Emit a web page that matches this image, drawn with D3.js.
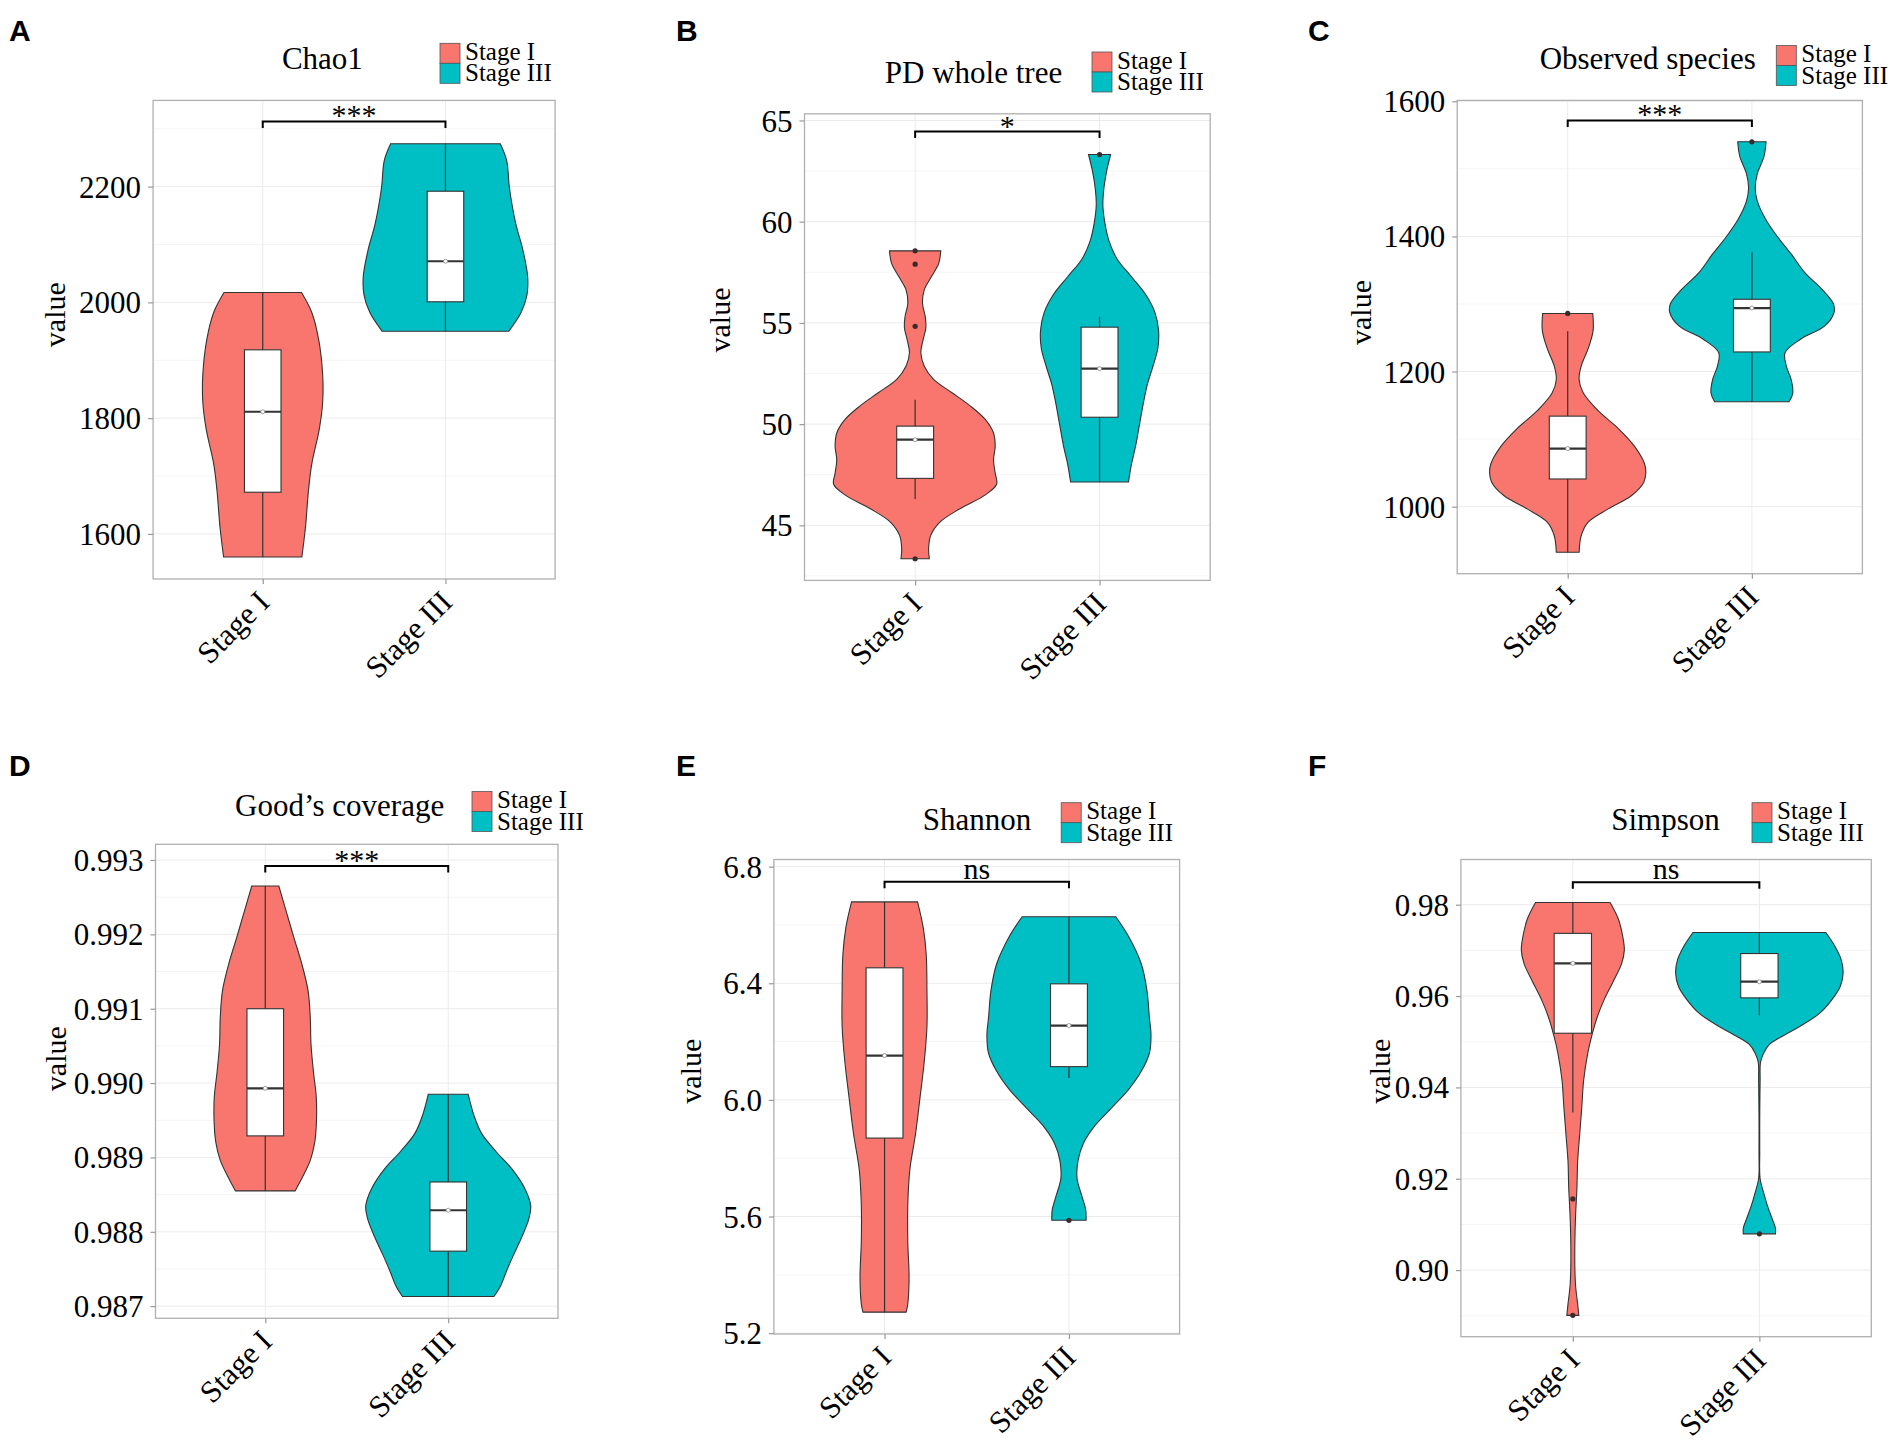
<!DOCTYPE html>
<meta charset="utf-8">
<style>
body{ margin:0; background:#fff; }
svg{ display:block; }
text{ font-family:"Liberation Serif","Times New Roman",serif; fill:#000; }
.letter{ font-family:"Liberation Sans",Arial,sans-serif; font-weight:bold; font-size:30px; }
.title{ font-size:31px; text-anchor:middle; }
.legend text{ font-size:25px; }
.ylab{ font-size:30px; text-anchor:middle; }
.sig{ font-size:30px; text-anchor:middle; }
.axis text{ font-size:31px; }
.axis line{ stroke:#999; stroke-width:1.2px; }
.axis path{ display:none; }
.grid-major{ stroke:#ebebeb; stroke-width:1px; }
.grid-minor{ stroke:#f5f5f5; stroke-width:1px; }
.violin{ stroke:#333; stroke-width:1.1px; }
.whisker{ stroke:#333; stroke-width:1.2px; }
.box{ fill:#fff; stroke:#333; stroke-width:1.1px; }
.median{ stroke:#333; stroke-width:2.2px; }
.border{ fill:none; stroke:#b0b0b0; stroke-width:1.3px; }
.bracket{ fill:none; stroke:#000; stroke-width:2px; }
</style>
<body>
<script src="https://d3js.org/d3.v7.min.js"></script>
<script>
// ---- data ----
var categories = ["Stage I", "Stage III"];
var fillColors = ["#F8766D", "#00BFC4"];
var panelLetters = ["A", "B", "C", "D", "E", "F"];
var panelTitles = ["Chao1", "PD whole tree", "Observed species", "Good\u2019s coverage", "Shannon", "Simpson"];
var sigLabels = ["***", "*", "***", "***", "ns", "ns"];
var sigValues = [2312.6, 64.45, 1571.6, 0.99292, 6.748, 0.9849];

var chao1Ticks = [1600, 1800, 2000, 2200];
var pdTicks = [45, 50, 55, 60, 65];
var obsTicks = [1000, 1200, 1400, 1600];
var goodsTicks = [0.987, 0.988, 0.989, 0.990, 0.991, 0.992, 0.993];
var shannonTicks = [5.2, 5.6, 6.0, 6.4, 6.8];
var simpsonTicks = [0.90, 0.92, 0.94, 0.96, 0.98];

// y extent of each panel [bottom, top]
var chao1Range = [1522.1, 2348.9];
var pdRange = [42.28, 65.33];
var obsRange = [900.8, 1601.3];
var goodsRange = [0.986837, 0.993211];
var shannonRange = [5.197, 6.8245];
var simpsonRange = [0.88542, 0.9899];

// violin profiles: [value, half width in category units]
var chao1_I = [[2017,0.212],[1983,0.268],[1936,0.306],[1875,0.328],[1828,0.328],[1782,0.310],[1720,0.268],[1674,0.25],[1612,0.234],[1560,0.214]];
var chao1_III = [[2274,0.30],[2245,0.335],[2198,0.35],[2137,0.384],[2090,0.424],[2044,0.45],[2013,0.446],[1982,0.413],[1950,0.346]];
var pd_I = [[58.56,0.139],[57.94,0.128],[57.28,0.088],[56.62,0.049],[55.96,0.04],[55.30,0.055],[54.75,0.058],[54.20,0.044],[53.53,0.031],[52.87,0.049],[52.21,0.1],[51.55,0.2],[50.89,0.3],[50.23,0.38],[49.56,0.425],[48.90,0.434],[48.24,0.425],[47.58,0.434],[47.03,0.442],[46.48,0.376],[45.82,0.243],[45.15,0.133],[44.49,0.084],[43.83,0.073],[43.35,0.077]];
var pd_III = [[63.32,0.06],[62.57,0.04],[61.69,0.024],[60.81,0.018],[59.93,0.029],[59.05,0.051],[58.16,0.095],[57.28,0.173],[56.40,0.25],[55.52,0.3],[54.64,0.32],[53.75,0.316],[52.87,0.29],[51.99,0.26],[51.11,0.239],[50.0,0.217],[48.90,0.195],[48.02,0.173],[47.14,0.157]];
var obs_I = [[1286,0.136],[1261,0.138],[1234.6,0.112],[1208,0.073],[1188.3,0.062],[1168.5,0.084],[1142,0.165],[1115.6,0.275],[1089.2,0.363],[1062.8,0.418],[1049.6,0.424],[1036.3,0.413],[1016.5,0.347],[996.7,0.22],[976.9,0.11],[957,0.073],[932.6,0.062]];
var obs_III = [[1540,0.077],[1518.7,0.066],[1492.3,0.029],[1472.5,0.018],[1452.6,0.029],[1426.2,0.073],[1399.8,0.138],[1373.3,0.215],[1346.9,0.286],[1320.5,0.385],[1300.7,0.442],[1287.4,0.446],[1267.6,0.396],[1247.8,0.264],[1227.8,0.18],[1208.1,0.187],[1188.3,0.213],[1168.5,0.222],[1155.3,0.202]];
var goods_I = [[0.99265,0.074],[0.99233,0.112],[0.99196,0.156],[0.99160,0.2],[0.99124,0.234],[0.99088,0.246],[0.99052,0.25],[0.99016,0.263],[0.98980,0.279],[0.98944,0.279],[0.98920,0.27],[0.98896,0.246],[0.98872,0.2],[0.98855,0.163]];
var goods_III = [[0.98985,0.109],[0.98956,0.141],[0.98932,0.183],[0.98908,0.261],[0.98884,0.35],[0.98859,0.417],[0.98835,0.451],[0.98817,0.44],[0.98793,0.402],[0.98769,0.357],[0.98745,0.315],[0.98727,0.286],[0.98713,0.25]];
var shannon_I = [[6.679,0.179],[6.590,0.21],[6.498,0.226],[6.375,0.23],[6.252,0.23],[6.129,0.215],[6.006,0.192],[5.883,0.168],[5.760,0.137],[5.638,0.126],[5.515,0.126],[5.392,0.133],[5.300,0.126],[5.272,0.117]];
var shannon_III = [[6.628,0.254],[6.559,0.325],[6.467,0.392],[6.375,0.423],[6.283,0.436],[6.221,0.445],[6.160,0.436],[6.098,0.392],[6.037,0.325],[5.975,0.235],[5.914,0.144],[5.853,0.08],[5.791,0.049],[5.730,0.044],[5.668,0.071],[5.622,0.091],[5.587,0.093]];
var simpson_I = [[0.9805,0.2],[0.97686,0.244],[0.97294,0.268],[0.970,0.276],[0.96706,0.261],[0.96314,0.216],[0.95922,0.168],[0.9553,0.13],[0.95137,0.102],[0.94745,0.08],[0.94157,0.058],[0.93569,0.048],[0.9298,0.037],[0.92392,0.026],[0.91804,0.022],[0.91216,0.015],[0.90627,0.011],[0.90039,0.011],[0.89647,0.015],[0.89255,0.026],[0.8901,0.032]];
var simpson_III = [[0.97392,0.356],[0.97098,0.404],[0.96804,0.438],[0.9651,0.449],[0.96216,0.434],[0.95922,0.389],[0.95627,0.324],[0.95333,0.216],[0.95137,0.13],[0.94941,0.054],[0.94745,0.022],[0.94549,0.006],[0.94157,0.004],[0.93373,0.002],[0.92588,0.002],[0.92,0.004],[0.91706,0.022],[0.91412,0.043],[0.91118,0.069],[0.90922,0.086],[0.90794,0.086]];

// box stats: [lower whisker, Q1, median, Q3, upper whisker]
var chao1Stats = [[1560,1672,1811,1918,2017],[1950,2001,2071,2192,2274]];
var pdStats = [[46.3,47.32,49.23,49.9,51.2],[47.14,50.34,52.74,54.79,55.3]];
var obsStats = [[932.6,1041,1086,1134,1259.7],[1155.3,1229,1294,1307,1376.6]];
var goodsStats = [[0.98855,0.98929,0.98993,0.9910,0.99265],[0.98713,0.98774,0.98829,0.98867,0.98985]];
var shannonStats = [[5.272,5.869,6.152,6.453,6.679],[6.075,6.114,6.255,6.398,6.628]];
var simpsonStats = [[0.93451,0.95186,0.96716,0.97373,0.9805],[0.95578,0.95961,0.96314,0.96931,0.97392]];

var chao1Outliers = [[], []];
var pdOutliers = [[58.56,57.9,54.83,43.35],[63.32]];
var obsOutliers = [[1286],[1540]];
var goodsOutliers = [[], []];
var shannonOutliers = [[], [5.587]];
var simpsonOutliers = [[0.91559,0.8901],[0.90794]];

var panels = [
  {ticks:chao1Ticks, fmt:"d", range:chao1Range, violins:[chao1_I, chao1_III], stats:chao1Stats, outliers:chao1Outliers},
  {ticks:pdTicks, fmt:"d", range:pdRange, violins:[pd_I, pd_III], stats:pdStats, outliers:pdOutliers},
  {ticks:obsTicks, fmt:"d", range:obsRange, violins:[obs_I, obs_III], stats:obsStats, outliers:obsOutliers},
  {ticks:goodsTicks, fmt:".3f", range:goodsRange, violins:[goods_I, goods_III], stats:goodsStats, outliers:goodsOutliers},
  {ticks:shannonTicks, fmt:".1f", range:shannonRange, violins:[shannon_I, shannon_III], stats:shannonStats, outliers:shannonOutliers},
  {ticks:simpsonTicks, fmt:".2f", range:simpsonRange, violins:[simpson_I, simpson_III], stats:simpsonStats, outliers:simpsonOutliers}
];

// ---- layout of the six panels (pixels) ----
var frames = [
  {l:153.1, r:555.1, t:100.4, b:579.0, tx:322.4, ty:69.2, lx:440.0, ly:43.3, px:9, py:41, vx:54.7, vy:314.7},
  {l:804.5, r:1210.2, t:113.8, b:580.4, tx:973.5, ty:82.6, lx:1092.0, ly:52.0, px:676, py:41, vx:719.6, vy:320.0},
  {l:1457.2, r:1862.4, t:100.4, b:573.7, tx:1647.7, ty:69.2, lx:1776.3, ly:45.5, px:1308, py:41, vx:1361.0, vy:312.5},
  {l:155.5, r:558.0, t:844.3, b:1318.3, tx:339.6, ty:816.1, lx:472.0, ly:791.5, px:9, py:776, vx:56.0, vy:1058.7},
  {l:773.9, r:1179.6, t:859.5, b:1334.0, tx:977.1, ty:829.5, lx:1061.2, ly:802.7, px:676, py:776, vx:691.0, vy:1071.2},
  {l:1460.9, r:1871.3, t:859.5, b:1336.7, tx:1665.5, ty:829.5, lx:1752.0, ly:802.7, px:1308, py:776, vx:1380.0, vy:1071.2}
];

var svg = d3.select("body").append("svg").attr("width", 1904).attr("height", 1442);

panels.forEach(function(p, i){
  var f = frames[i];
  var x = d3.scaleLinear().domain([0.4, 2.6]).range([f.l, f.r]);
  var y = d3.scaleLinear().domain(p.range).range([f.b, f.t]);
  var g = svg.append("g");

  // grid
  var step = p.ticks[1] - p.ticks[0];
  var minors = d3.range(p.ticks.length + 1)
    .map(function(k){ return p.ticks[0] + (k - 0.5) * step; })
    .filter(function(v){ return v > p.range[0] && v < p.range[1]; });
  g.selectAll(".grid-minor").data(minors).enter().append("line").attr("class", "grid-minor")
    .attr("x1", f.l).attr("x2", f.r).attr("y1", function(d){ return y(d); }).attr("y2", function(d){ return y(d); });
  g.selectAll(".grid-major").data(p.ticks).enter().append("line").attr("class", "grid-major")
    .attr("x1", f.l).attr("x2", f.r).attr("y1", function(d){ return y(d); }).attr("y2", function(d){ return y(d); });
  g.selectAll(".grid-x").data([1, 2]).enter().append("line").attr("class", "grid-major")
    .attr("x1", function(d){ return x(d); }).attr("x2", function(d){ return x(d); }).attr("y1", f.t).attr("y2", f.b);

  // violins + boxes
  p.violins.forEach(function(prof, c){
    var cx = c + 1;
    var area = d3.area().curve(d3.curveCatmullRom.alpha(0.5))
      .y(function(d){ return y(d[0]); })
      .x0(function(d){ return x(cx - d[1]); })
      .x1(function(d){ return x(cx + d[1]); });
    g.append("path").attr("class", "violin").attr("fill", fillColors[c]).attr("d", area(prof));

    var s = p.stats[c];
    g.append("line").attr("class", "whisker").attr("x1", x(cx)).attr("x2", x(cx)).attr("y1", y(s[0])).attr("y2", y(s[4]));
    g.append("rect").attr("class", "box")
      .attr("x", x(cx - 0.1)).attr("width", x(cx + 0.1) - x(cx - 0.1))
      .attr("y", y(s[3])).attr("height", y(s[1]) - y(s[3]));
    g.append("line").attr("class", "median").attr("x1", x(cx - 0.1)).attr("x2", x(cx + 0.1)).attr("y1", y(s[2])).attr("y2", y(s[2]));
    g.append("circle").attr("cx", x(cx)).attr("cy", y(s[2])).attr("r", 2).attr("fill", "#fff").attr("stroke", "#888").attr("stroke-width", 0.8);

    g.selectAll(".out" + c).data(p.outliers[c]).enter().append("circle").attr("class", "out" + c)
      .attr("cx", x(cx)).attr("cy", function(d){ return y(d); }).attr("r", 2.6).attr("fill", "#3a2a2a");
  });

  g.append("rect").attr("class", "border").attr("x", f.l).attr("y", f.t).attr("width", f.r - f.l).attr("height", f.b - f.t);

  // significance bracket
  var sy = y(sigValues[i]);
  g.append("path").attr("class", "bracket")
    .attr("d", "M" + x(1) + "," + (sy + 6.5) + "V" + sy + "H" + x(2) + "V" + (sy + 6.5));
  g.append("text").attr("class", "sig").attr("x", (x(1) + x(2)) / 2)
    .attr("y", sigLabels[i] === "ns" ? sy - 3 : sy + 4).text(sigLabels[i]);

  // axes
  var ya = g.append("g").attr("class", "axis").attr("transform", "translate(" + f.l + ",0)")
    .call(d3.axisLeft(y).tickValues(p.ticks).tickFormat(d3.format(p.fmt)).tickSize(5).tickPadding(7));
  ya.selectAll("text").attr("dy", "0.34em");
  var xa = g.append("g").attr("class", "axis").attr("transform", "translate(0," + f.b + ")")
    .call(d3.axisBottom(x).tickValues([1, 2]).tickFormat(function(d){ return categories[d - 1]; }).tickSize(5));
  xa.selectAll("text").attr("y", 0).attr("dy", 0).attr("text-anchor", "end")
    .attr("transform", "translate(8,25) rotate(-45)");

  g.append("text").attr("class", "ylab")
    .attr("transform", "translate(" + (f.vx + 10) + "," + f.vy + ") rotate(-90)").text("value");

  // title, legend, letter
  g.append("text").attr("class", "title").attr("x", f.tx).attr("y", f.ty).text(panelTitles[i]);
  var lg = g.append("g").attr("class", "legend").attr("transform", "translate(" + f.lx + "," + f.ly + ")");
  categories.forEach(function(cat, c){
    lg.append("rect").attr("x", 0).attr("y", c * 20).attr("width", 20).attr("height", 20)
      .attr("fill", fillColors[c]).attr("stroke", "#555").attr("stroke-width", 0.8);
    lg.append("text").attr("x", 25).attr("y", 16.5 + c * 21.5).text(cat);
  });
  g.append("text").attr("class", "letter").attr("x", f.px).attr("y", f.py).text(panelLetters[i]);
});
</script>
</body>
